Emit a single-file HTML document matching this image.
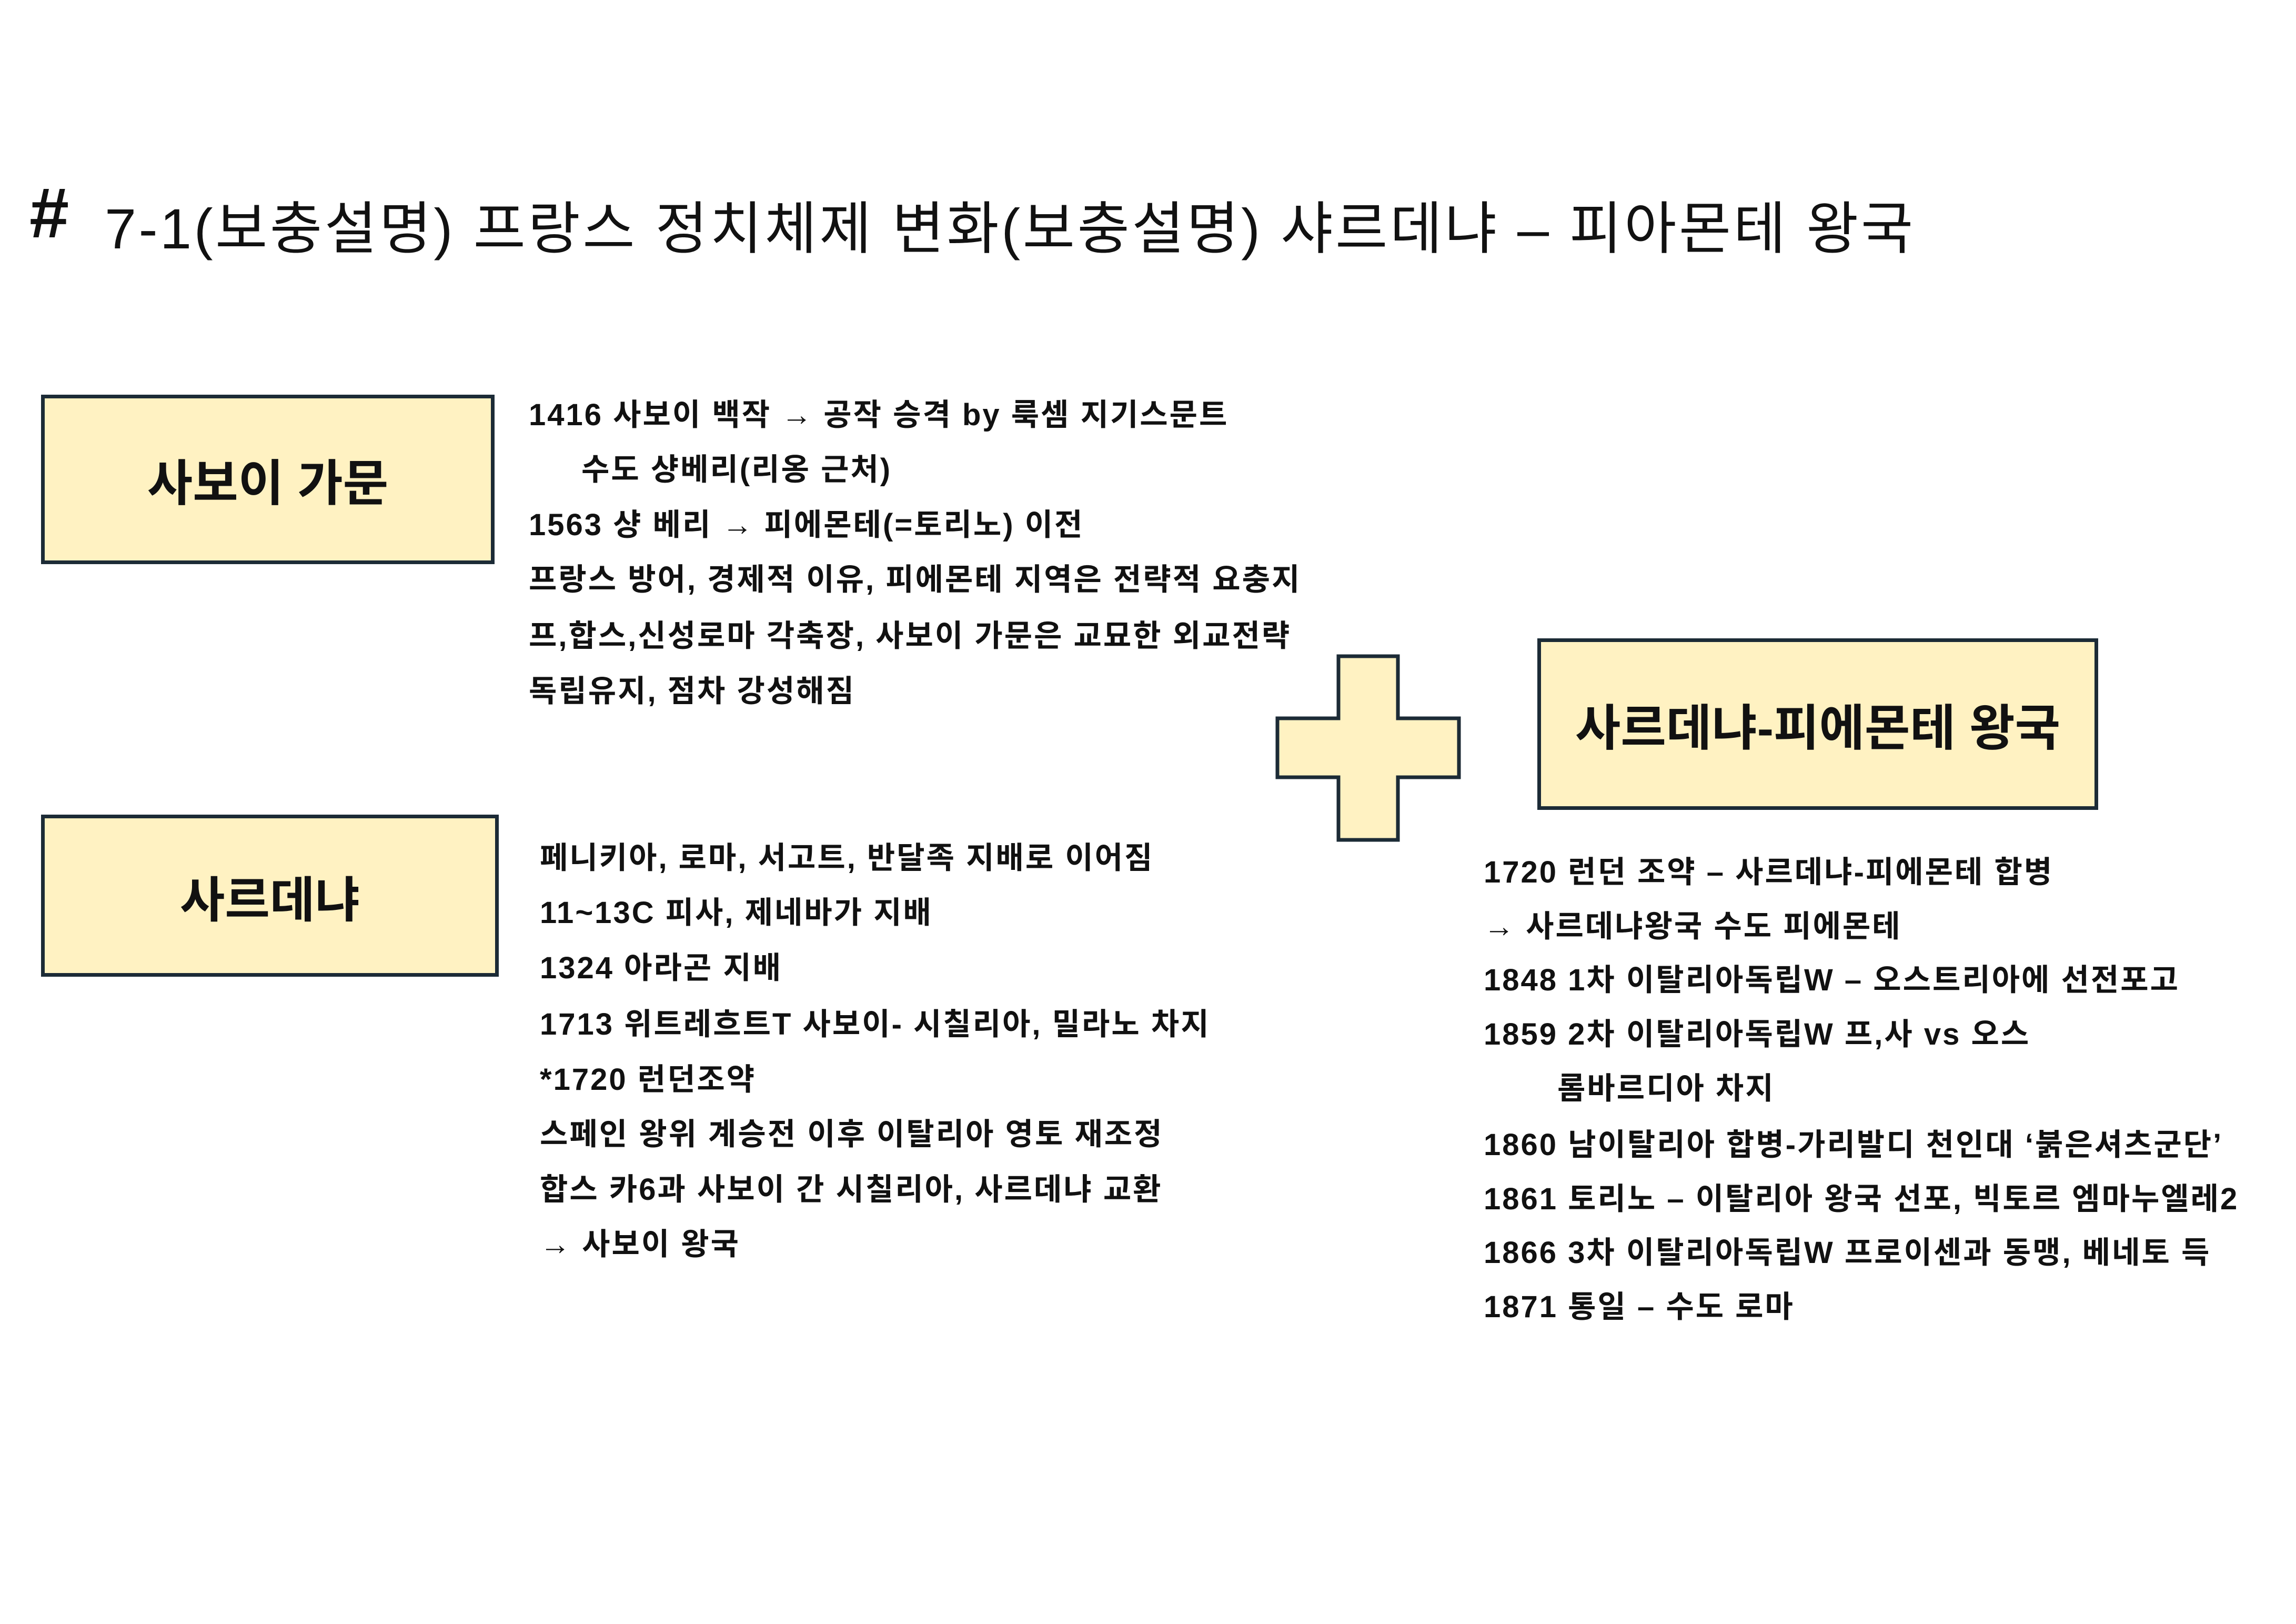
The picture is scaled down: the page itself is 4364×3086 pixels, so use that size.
<!DOCTYPE html>
<html><head><meta charset="utf-8"><style>
html,body{margin:0;padding:0;background:#fff;}
body{width:4364px;height:3086px;position:relative;overflow:hidden;font-family:"Liberation Sans","Noto Sans CJK KR",sans-serif;color:#111;}
.t{position:absolute;white-space:nowrap;}
.box{position:absolute;background:#fff2c2;border:7px solid #1c2b36;box-sizing:border-box;display:flex;align-items:center;justify-content:center;font-weight:bold;}
.lines div{position:absolute;white-space:nowrap;font-size:58px;letter-spacing:3px;font-weight:bold;line-height:104px;height:104px;}
</style></head><body>
<div class="t" style="left:56px;top:330px;font-size:135px;line-height:150px;font-weight:bold;">#</div>
<div class="t" style="left:199px;top:375px;font-size:108px;letter-spacing:4.5px;line-height:120px;">7-1(보충설명) 프랑스 정치체제 변화(보충설명) 샤르데냐 – 피아몬테 왕국</div>

<div class="box" style="left:78px;top:750px;width:862px;height:322px;font-size:94px;">사보이 가문</div>
<div class="box" style="left:78px;top:1548px;width:870px;height:308px;font-size:93px;">사르데냐</div>
<div class="box" style="left:2922px;top:1213px;width:1066px;height:326px;font-size:94px;">사르데냐-피에몬테 왕국</div>

<svg style="position:absolute;left:0;top:0" width="4364" height="3086">
<path d="M2544 1247 H2657 V1365 H2773 V1477 H2657 V1596 H2544 V1477 H2428 V1365 H2544 Z" fill="#fff2c2" stroke="#1c2b36" stroke-width="7"/>
</svg>

<div class="lines">
<div style="left:1005px;top:737px;">1416 사보이 백작 → 공작 승격 by 룩셈 지기스문트</div>
<div style="left:1105px;top:841px;">수도 샹베리(리옹 근처)</div>
<div style="left:1005px;top:946px;">1563 샹 베리 → 피에몬테(=토리노) 이전</div>
<div style="left:1005px;top:1050px;">프랑스 방어, 경제적 이유, 피에몬테 지역은 전략적 요충지</div>
<div style="left:1005px;top:1157px;">프,합스,신성로마 각축장, 사보이 가문은 교묘한 외교전략</div>
<div style="left:1005px;top:1262px;">독립유지, 점차 강성해짐</div>

<div style="left:1026px;top:1579px;">페니키아, 로마, 서고트, 반달족 지배로 이어짐</div>
<div style="left:1026px;top:1683px;">11~13C 피사, 제네바가 지배</div>
<div style="left:1026px;top:1788px;">1324 아라곤 지배</div>
<div style="left:1026px;top:1895px;">1713 위트레흐트T 사보이- 시칠리아, 밀라노 차지</div>
<div style="left:1026px;top:2000px;">*1720 런던조약</div>
<div style="left:1026px;top:2104px;">스페인 왕위 계승전 이후 이탈리아 영토 재조정</div>
<div style="left:1026px;top:2209px;">합스 카6과 사보이 간 시칠리아, 사르데냐 교환</div>
<div style="left:1026px;top:2313px;">→ 사보이 왕국</div>

<div style="left:2820px;top:1606px;">1720 런던 조약 – 사르데냐-피에몬테 합병</div>
<div style="left:2820px;top:1709px;">→ 사르데냐왕국 수도 피에몬테</div>
<div style="left:2820px;top:1811px;">1848 1차 이탈리아독립W – 오스트리아에 선전포고</div>
<div style="left:2820px;top:1914px;">1859 2차 이탈리아독립W 프,사 vs 오스</div>
<div style="left:2960px;top:2017px;">롬바르디아 차지</div>
<div style="left:2820px;top:2124px;">1860 남이탈리아 합병-가리발디 천인대 ‘붉은셔츠군단’</div>
<div style="left:2820px;top:2227px;">1861 토리노 – 이탈리아 왕국 선포, 빅토르 엠마누엘레2</div>
<div style="left:2820px;top:2329px;">1866 3차 이탈리아독립W 프로이센과 동맹, 베네토 득</div>
<div style="left:2820px;top:2432px;">1871 통일 – 수도 로마</div>
</div>
</body></html>
